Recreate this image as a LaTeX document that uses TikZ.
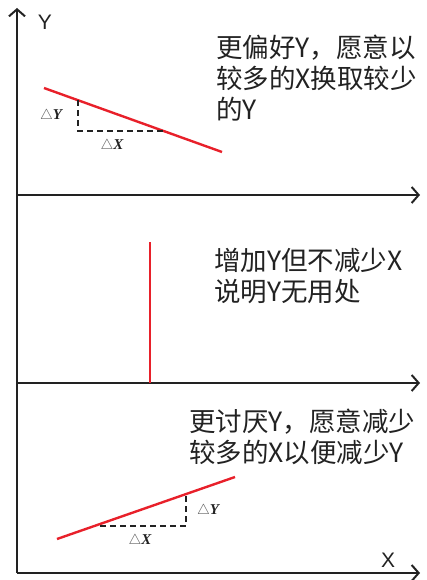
\documentclass[tikz,border=0pt]{standalone}
\usepackage{fontspec}
\setmainfont{Liberation Sans}
\newfontfamily\cjk{Noto Sans CJK SC}
\newfontfamily\serifbi{Liberation Serif}
\usetikzlibrary{arrows.meta}
\definecolor{ink}{HTML}{222222}
\definecolor{redl}{HTML}{E8202A}
\newcommand{\dlt}[1]{{\color{ink!75}$\triangle$}{\serifbi\bfseries\itshape #1}}
\begin{document}
\begin{tikzpicture}[x=1pt,y=-1pt,
  axis/.style={draw=ink,line width=2.2pt,-{Straight Barb[length=7pt,width=16pt,line width=2pt]}},
  curve/.style={draw=redl,line width=2.4pt},
  dline/.style={draw=ink,line width=1.5pt,dash pattern=on 6pt off 4pt},
  note/.style={font=\cjk\fontsize{26.5}{31}\selectfont,text=ink,align=left,anchor=west,inner sep=0pt},
  lab/.style={font=\fontsize{21}{24}\selectfont,text=ink,inner sep=0pt},
  dlab/.style={font=\fontsize{15}{17}\selectfont,text=ink,inner sep=0pt}]
\useasboundingbox (0,0) rectangle (427,580);
\coordinate (O) at (17,573);
\coordinate (Ytop) at (17,8);
\coordinate (Xend) at (420,573);
\coordinate (A1s) at (17,195);
\coordinate (A1e) at (420,195);
\coordinate (A2s) at (17,383);
\coordinate (A2e) at (420,383);
\draw[axis] (O) -- (Ytop);
\draw[axis] (O) -- (Xend);
\draw[axis] (A1s) -- (A1e);
\draw[axis] (A2s) -- (A2e);
\node[lab] (ylab) at (45,22) {Y};
\node[lab] (xlab) at (388,560) {X};
% top panel
\coordinate (p1) at (44,88);
\coordinate (p2) at (222,152);
\draw[curve] (p1) -- (p2);
\coordinate (t1) at (78,100.2);
\coordinate (t2) at (78,131);
\coordinate (t3) at (164,131);
\draw[dline] (t1) -- (t2) -- (t3);
\node[dlab] (dy1) at (51,116) {\dlt{Y}};
\node[dlab] (dx1) at (112,146) {\dlt{X}};
\node[note] (n1) at (216,78) {更偏好Y，愿意以\\较多的X换取较少\\的Y};
% middle panel
\coordinate (m1) at (150,242);
\coordinate (m2) at (150,383);
\draw[curve] (m1) -- (m2);
\node[note] (n2) at (214,276) {增加Y但不减少X\\说明Y无用处};
% bottom panel
\coordinate (q1) at (57,539);
\coordinate (q2) at (235,477);
\draw[curve] (q1) -- (q2);
\coordinate (b1) at (100,526);
\coordinate (b2) at (186,526);
\coordinate (b3) at (186,494);
\draw[dline] (b1) -- (b2) -- (b3);
\node[dlab] (dy2) at (208,511) {\dlt{Y}};
\node[dlab] (dx2) at (140,541) {\dlt{X}};
\node[note] (n3) at (189,437) {更讨厌Y，愿意减少\\较多的X以便减少Y};
\end{tikzpicture}
\end{document}
